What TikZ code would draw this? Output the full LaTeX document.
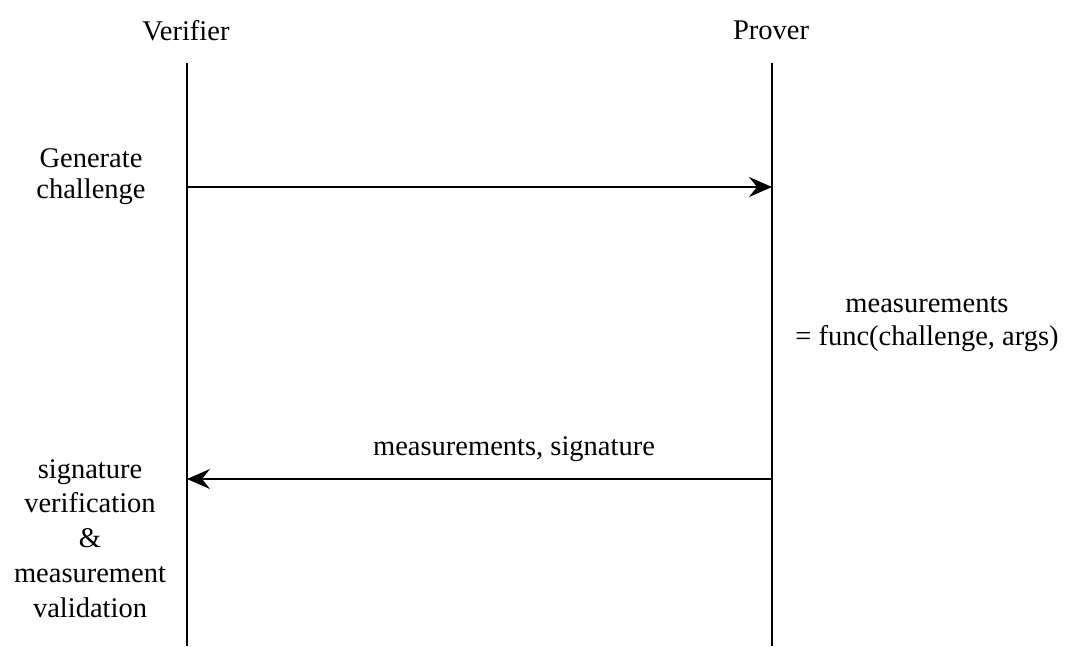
\documentclass[tikz,border=0pt]{standalone}
\usepackage{fontspec}
\setmainfont{Liberation Serif}
\usetikzlibrary{arrows.meta}
\begin{document}
\begin{tikzpicture}[x=1pt,y=-1pt,
  lbl/.style={align=center,inner sep=0pt,anchor=base,font=\fontsize{28.5}{33}\selectfont},
  life/.style={line width=1.8pt,black},
  msg/.style={line width=1.8pt,-{Stealth[length=23pt,width=20pt,inset=8pt]}}]
\useasboundingbox (0,0) rectangle (1068,646);
\node[lbl] (v) at (186,40) {Verifier};
\node[lbl] (p) at (771,39) {Prover};
\coordinate (vt) at (187,63);
\coordinate (vb) at (187,646);
\coordinate (pt) at (772,63);
\coordinate (pb) at (772,646);
\draw[life] (vt) -- (vb);
\draw[life] (pt) -- (pb);
\node[lbl,font=\fontsize{28.5}{31}\selectfont] (gen) at (91,198) {Generate\\challenge};
\coordinate (a1s) at (187,187);
\coordinate (a1e) at (772,187);
\draw[msg] (a1s) -- (a1e);
\node[lbl] (meas) at (927,345) {measurements\\= func(challenge, args)};
\node[lbl] (ms) at (514,455) {measurements, signature};
\coordinate (a2s) at (772,479);
\coordinate (a2e) at (187,479);
\draw[msg] (a2s) -- (a2e);
\node[lbl,font=\fontsize{28.5}{34.7}\selectfont] (ver) at (90,617) {signature\\verification\\\&\\measurement\\validation};
\end{tikzpicture}
\end{document}
